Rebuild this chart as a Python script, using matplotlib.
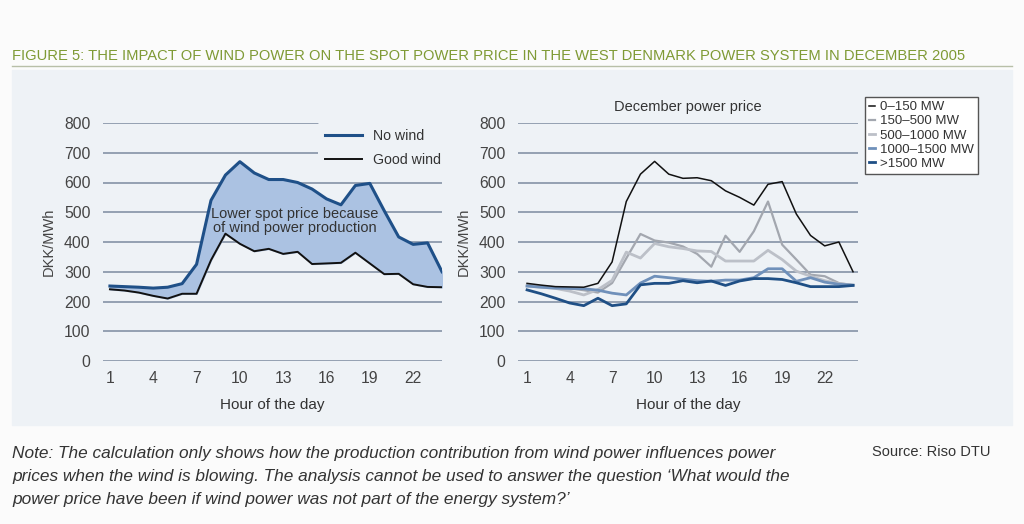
import matplotlib
matplotlib.use("Agg")
import matplotlib.pyplot as plt
from matplotlib.patches import Rectangle
from matplotlib.lines import Line2D

# hours of the day
hours = list(range(1, 25))

# left chart: spot price, no wind vs good wind (DKK/MWh)
no_wind = [252, 250, 248, 245, 248, 260, 325, 540, 625, 670, 632, 610,
           610, 600, 578, 545, 525, 590, 597, 505, 417, 392, 397, 300]
good_wind = [241, 237, 230, 219, 210, 226, 226, 339, 428, 394, 369, 377,
             360, 367, 326, 328, 330, 364, 328, 292, 293, 258, 249, 248]

# right chart: December power price by wind production class
p_0_150 = [261, 255, 250, 249, 248, 261, 333, 536, 628, 671, 628, 614,
           616, 606, 572, 550, 524, 594, 603, 494, 422, 387, 400, 300]
p_150_500 = [256, 252, 248, 244, 238, 230, 262, 345, 427, 405, 398, 385,
             360, 317, 421, 367, 436, 536, 391, 341, 290, 285, 262, 255]
p_500_1000 = [252, 248, 244, 235, 222, 240, 271, 366, 346, 395, 384, 378,
              370, 368, 336, 336, 336, 372, 341, 302, 285, 270, 260, 255]
p_1000_1500 = [252, 248, 245, 244, 243, 238, 228, 222, 262, 285, 280, 275,
               270, 268, 272, 272, 280, 310, 310, 268, 280, 265, 258, 255]
p_1500 = [239, 226, 211, 195, 186, 211, 186, 192, 256, 261, 261, 270,
          263, 269, 254, 269, 277, 277, 274, 263, 250, 250, 250, 254]

yticks = [0, 100, 200, 300, 400, 500, 600, 700, 800]
xticks = [1, 4, 7, 10, 13, 16, 19, 22]

panel = "#eef2f6"
grid_c = "#8593a6"
txt = "#444444"
narrow = ["Liberation Sans Narrow", "Liberation Sans", "DejaVu Sans"]
plt.rcParams["font.family"] = ["Liberation Sans", "DejaVu Sans"]

fig = plt.figure(figsize=(10.24, 5.24), dpi=100)
fig.patch.set_facecolor("#fbfbfb")
fig.add_artist(Rectangle((0.012, 1 - 425 / 524), 0.976, (425 - 70) / 524,
                         transform=fig.transFigure, color=panel, zorder=-5))

fig.text(12 / 1024, 1 - 56 / 524,
         "FIGURE 5: THE IMPACT OF WIND POWER ON THE SPOT POWER PRICE IN THE WEST DENMARK POWER SYSTEM IN DECEMBER 2005",
         family=narrow, fontsize=10.6, color="#7f9a35", va="center")
fig.add_artist(Line2D([12 / 1024, 1012 / 1024], [1 - 66 / 524, 1 - 66 / 524],
                      transform=fig.transFigure, color="#b8bfa8", lw=1))


def setup(ax, xmin, xmax):
    ax.set_facecolor("none")
    ax.set_xlim(xmin, xmax)
    ax.set_ylim(0, 800)
    ax.set_yticks(yticks)
    ax.set_xticks(xticks)
    ax.tick_params(length=0, labelsize=11.3, colors=txt, pad=7)
    ax.tick_params(axis="y", pad=9)
    for s in ax.spines.values():
        s.set_visible(False)
    ax.grid(axis="y", color=grid_c, lw=1.2)
    ax.set_axisbelow(True)
    ax.set_ylabel("DKK/MWh", fontsize=10.5, color=txt, labelpad=6)
    ax.set_xlabel("Hour of the day", fontsize=11, color="#333333", labelpad=9)


y0 = 1 - 361 / 524
h = (361 - 123) / 524

# left chart
ax1 = fig.add_axes([103 / 1024, y0, 339 / 1024, h])
setup(ax1, 0.52, 24)
ax1.fill_between(hours, good_wind, no_wind, color="#abc2e2", zorder=2)
ax1.plot(hours, no_wind, color="#1f5088", lw=2.2, label="No wind", zorder=3)
ax1.plot(hours, good_wind, color="#111111", lw=1.4, label="Good wind", zorder=3)
ax1.text(13.8, 470, "Lower spot price because\nof wind power production",
         ha="center", va="center", fontsize=10.5, color="#333333", zorder=4,
         linespacing=1.05)
leg1 = ax1.legend(loc="upper right", bbox_to_anchor=(1.04, 1.035), frameon=True,
                  facecolor=panel, edgecolor="none", framealpha=1,
                  fontsize=10.2, handlelength=2.6, labelspacing=0.7,
                  borderpad=0.5, handletextpad=0.8)
for t in leg1.get_texts():
    t.set_color("#333333")

# right chart
ax2 = fig.add_axes([518 / 1024, y0, 340 / 1024, h])
setup(ax2, 0.36, 24.35)
ax2.plot(hours, p_0_150, color="#111111", lw=1.1, label="0\u2013150 MW", zorder=5)
ax2.plot(hours, p_150_500, color="#a3a7af", lw=1.6, label="150\u2013500 MW", zorder=3)
ax2.plot(hours, p_500_1000, color="#bcc0c8", lw=2.0, label="500\u20131000 MW", zorder=3)
ax2.plot(hours, p_1000_1500, color="#6f90ba", lw=2.0, label="1000\u20131500 MW", zorder=4)
ax2.plot(hours, p_1500, color="#1f4f85", lw=2.0, label=">1500 MW", zorder=4)
ax2.set_title("December power price", fontsize=10.5, color="#333333", pad=9)
leg2 = fig.legend(*ax2.get_legend_handles_labels(), loc="upper left",
                  bbox_to_anchor=(865 / 1024, 1 - 97 / 524), frameon=True,
                  facecolor="white", edgecolor="#555555", framealpha=1,
                  fancybox=False, fontsize=9.5, handlelength=0.45,
                  handletextpad=0.4, labelspacing=0.15, borderpad=0.3,
                  borderaxespad=0)
leg2.get_frame().set_linewidth(1.0)
for t in leg2.get_texts():
    t.set_color("#333333")

note = ("Note: The calculation only shows how the production contribution from wind power influences power\n"
        "prices when the wind is blowing. The analysis cannot be used to answer the question \u2018What would the\n"
        "power price have been if wind power was not part of the energy system?\u2019")
fig.text(12 / 1024, 1 - 446 / 524, note, family=narrow, style="italic",
         fontsize=12.4, color="#333333", va="top", linespacing=1.68)
fig.text(872 / 1024, 1 - 452 / 524, "Source: Riso DTU", family=narrow,
         fontsize=10.5, color="#333333", va="center")

fig.savefig("out.png", dpi=100, facecolor=fig.get_facecolor())
